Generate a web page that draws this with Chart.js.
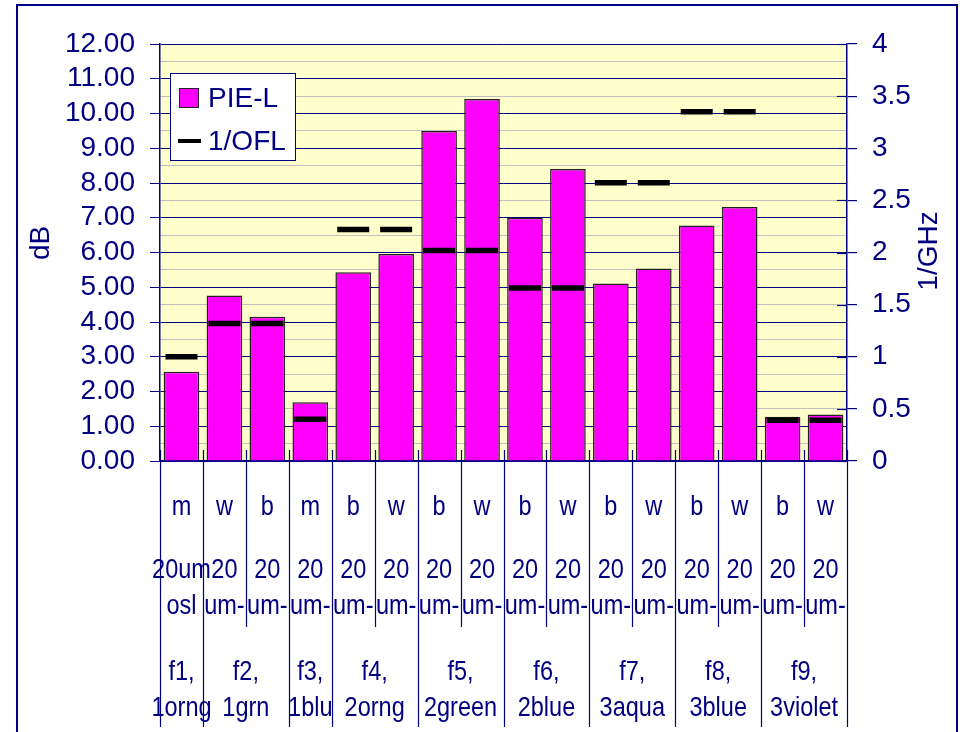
<!DOCTYPE html>
<html>
<head>
<meta charset="utf-8">
<title>PIE-L and 1/OFL by fiber</title>
<script src="https://cdn.jsdelivr.net/npm/chart.js@4/dist/chart.umd.min.js"></script>
<style>
  html, body { margin: 0; padding: 0; background: #ffffff; }
  #wrap { width: 960px; height: 732px; }
</style>
</head>
<body>
<div id="wrap"><canvas id="chart" width="960" height="732"></canvas></div>
<script>
// Launch type of each measured fiber (first label row)
const launchLabels = ['m', 'w', 'b', 'm', 'b', 'w', 'b', 'w', 'b', 'w', 'b', 'w', 'b', 'w', 'b', 'w'];
// Fiber description (second label row, already wrapped)
const fiberLabels = [
  ['20um', 'osl'], ['20', 'um-'], ['20', 'um-'], ['20', 'um-'],
  ['20', 'um-'], ['20', 'um-'], ['20', 'um-'], ['20', 'um-'],
  ['20', 'um-'], ['20', 'um-'], ['20', 'um-'], ['20', 'um-'],
  ['20', 'um-'], ['20', 'um-'], ['20', 'um-'], ['20', 'um-']
];
// Fiber groups (third label row) and how many bars each one spans
const groupLabels = [
  ['f1,', '1orng'], ['f2,', '1grn'], ['f3,', '1blu'], ['f4,', '2orng'], ['f5,', '2green'],
  ['f6,', '2blue'], ['f7,', '3aqua'], ['f8,', '3blue'], ['f9,', '3violet']
];
const groupSizes = [1, 2, 1, 2, 2, 2, 2, 2, 2];

// PIE-L in dB (left axis)
const pieL = [2.57, 4.76, 4.15, 1.69, 5.43, 5.96, 9.50, 10.42, 7.00, 8.40, 5.11, 5.54, 6.78, 7.31, 1.27, 1.34];
// 1/OFL in 1/GHz (right axis)
const invOFL = [1.00, 1.32, 1.32, 0.40, 2.22, 2.22, 2.02, 2.02, 1.66, 1.66, 2.67, 2.67, 3.35, 3.35, 0.39, 0.39];

// Axis ranges
const dbRange = [0, 12];
const ghzRange = [0, 4];

const NAVY = '#000080';
const FONT = "'Liberation Sans', Arial, sans-serif";
const LABEL_FONT = '28px ' + FONT;
const LABEL_SQUEEZE = 0.84;   // category text is set condensed

// Group start indices and centre positions on the category index scale
const groupStarts = [];
const groupCenters = [];
{
  let start = 0;
  groupSizes.forEach(n => {
    groupStarts.push(start);
    groupCenters.push(start + (n - 1) / 2);
    start += n;
  });
}

function condensedText(ctx, txt, x, y) {
  ctx.save();
  ctx.translate(x, y);
  ctx.scale(LABEL_SQUEEZE, 1);
  ctx.fillText(txt, 0, 0);
  ctx.restore();
}

// Background, frame, category label rows, dividers, axis titles and legend box
const decorations = {
  id: 'decorations',
  beforeDraw(chart) {
    const { ctx, chartArea: a } = chart;
    ctx.save();
    ctx.fillStyle = '#ffffff';
    ctx.fillRect(0, 0, chart.width, chart.height);
    ctx.fillStyle = '#FFFFCC';
    ctx.fillRect(a.left, a.top, a.right - a.left, a.bottom - a.top);
    ctx.strokeStyle = NAVY;
    ctx.lineWidth = 2;
    ctx.strokeRect(17, 5, 940, 780);
    ctx.restore();
  },
  afterDraw(chart) {
    const { ctx, chartArea: a } = chart;
    const x = chart.scales.x;
    const y1 = chart.scales.y1;
    ctx.save();
    ctx.strokeStyle = NAVY;
    ctx.lineWidth = 1.2;

    // category boundaries: short ticks inside the plot, dividers below it
    const groupEdges = new Set(groupStarts.concat([launchLabels.length]));
    for (let k = 0; k <= launchLabels.length; k++) {
      const px = Math.round(x.getPixelForValue(k - 0.5)) + 0.5;
      const bottom = groupEdges.has(k) ? 727 : 627;
      ctx.beginPath();
      ctx.moveTo(px, a.bottom - 11);
      ctx.lineTo(px, bottom);
      ctx.stroke();
    }

    // inner half of the right-axis cross ticks
    y1.ticks.forEach(t => {
      const py = Math.round(y1.getPixelForValue(t.value)) + 0.5;
      ctx.beginPath();
      ctx.moveTo(a.right - 10, py);
      ctx.lineTo(a.right, py);
      ctx.stroke();
    });

    // three rows of category labels, placed on the x scale
    ctx.fillStyle = NAVY;
    ctx.font = LABEL_FONT;
    ctx.textAlign = 'center';
    ctx.textBaseline = 'middle';
    launchLabels.forEach((lbl, i) => {
      const px = x.getPixelForValue(i);
      condensedText(ctx, lbl, px, 507);
      condensedText(ctx, fiberLabels[i][0], px, 570);
      condensedText(ctx, fiberLabels[i][1], px, 606);
    });
    groupLabels.forEach((lines, g) => {
      const px = x.getPixelForValue(groupCenters[g]);
      condensedText(ctx, lines[0], px, 672);
      condensedText(ctx, lines[1], px, 708);
    });

    // axis titles, both reading bottom-to-top
    ctx.font = '28px ' + FONT;
    [['dB', 41, 243], ['1/GHz', 929, 251]].forEach(([txt, tx, ty]) => {
      ctx.save();
      ctx.translate(tx, ty);
      ctx.rotate(-Math.PI / 2);
      ctx.fillText(txt, 0, 0);
      ctx.restore();
    });

    // legend box
    const bars = chart.data.datasets[0];
    const marks = chart.data.datasets[1];
    ctx.fillStyle = '#ffffff';
    ctx.fillRect(170, 73, 125, 87);
    ctx.lineWidth = 1;
    ctx.strokeStyle = NAVY;
    ctx.strokeRect(170.5, 73.5, 125, 87);
    ctx.fillStyle = bars.backgroundColor;
    ctx.fillRect(179, 88, 20, 20);
    ctx.strokeStyle = '#222222';
    ctx.strokeRect(179.5, 88.5, 19, 19);
    ctx.strokeStyle = marks.pointBorderColor;
    ctx.lineWidth = 4;
    ctx.beginPath();
    ctx.moveTo(178, 141);
    ctx.lineTo(201, 141);
    ctx.stroke();
    ctx.fillStyle = NAVY;
    ctx.font = '28px ' + FONT;
    ctx.textAlign = 'left';
    ctx.fillText(bars.label, 208, 99);
    ctx.fillText(marks.label, 208, 142);
    ctx.restore();
  }
};

new Chart(document.getElementById('chart'), {
  data: {
    labels: launchLabels,
    datasets: [
      {
        type: 'bar',
        label: 'PIE-L',
        data: pieL,
        xAxisID: 'x',
        yAxisID: 'y',
        backgroundColor: '#FF00FF',
        borderColor: '#222222',
        borderWidth: 1.5,
        categoryPercentage: 1,
        barPercentage: 0.83,
        order: 2
      },
      {
        type: 'line',
        label: '1/OFL',
        data: invOFL,
        xAxisID: 'x',
        yAxisID: 'y1',
        showLine: false,
        pointStyle: 'line',
        pointRadius: 16,
        pointHoverRadius: 16,
        pointBorderWidth: 5.5,
        pointHoverBorderWidth: 5.5,
        pointBorderColor: '#000000',
        pointBackgroundColor: '#000000',
        order: 1
      }
    ]
  },
  options: {
    responsive: false,
    devicePixelRatio: 1,
    animation: false,
    layout: { padding: { top: 44, left: 0, right: 0, bottom: 0 } },
    plugins: {
      legend: { display: false },
      tooltip: { enabled: false },
      title: { display: false }
    },
    scales: {
      x: {
        type: 'category',
        position: 'bottom',
        offset: true,
        grid: { display: false, drawTicks: false },
        border: { display: true, color: NAVY, width: 1.5 },
        ticks: { display: false },
        afterFit(s) { s.height = 271; }
      },
      y: {
        type: 'linear',
        position: 'left',
        min: dbRange[0],
        max: dbRange[1],
        grid: {
          color: c => Number.isInteger(c.tick.value) ? NAVY : '#C0C0C0',
          tickColor: c => Number.isInteger(c.tick.value) ? NAVY : 'rgba(0,0,0,0)',
          lineWidth: 1,
          tickLength: 10
        },
        border: { display: true, color: NAVY, width: 1.5 },
        ticks: {
          stepSize: 0.5,
          autoSkip: false,
          color: NAVY,
          padding: 15,
          font: { family: FONT, size: 28 },
          callback: v => Number.isInteger(v) ? v.toFixed(2) : ''
        },
        afterFit(s) { s.width = 160; }
      },
      y1: {
        type: 'linear',
        position: 'right',
        min: ghzRange[0],
        max: ghzRange[1],
        grid: { drawOnChartArea: false, color: NAVY, tickLength: 10, lineWidth: 1.2 },
        border: { display: true, color: NAVY, width: 1.5 },
        ticks: {
          stepSize: 0.5,
          autoSkip: false,
          color: NAVY,
          padding: 15,
          font: { family: FONT, size: 28 },
          callback: v => String(v)
        },
        afterFit(s) { s.width = 113; }
      }
    }
  },
  plugins: [decorations]
});
</script>
</body>
</html>
